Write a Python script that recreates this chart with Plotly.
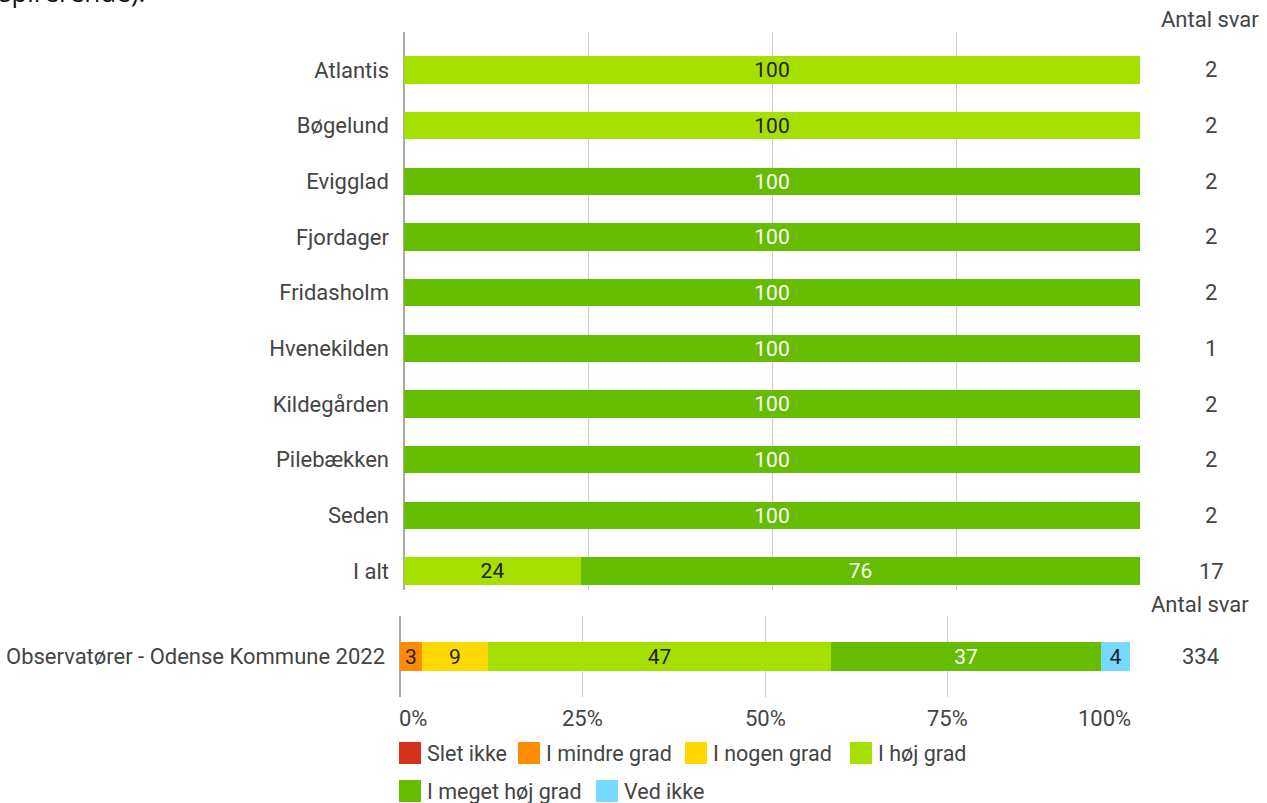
import plotly.graph_objects as go

W, H = 1267, 803

categories = ["Atlantis", "Bøgelund", "Evigglad", "Fjordager", "Fridasholm",
              "Hvenekilden", "Kildegården", "Pilebækken", "Seden", "I alt"]
series_names = ["Slet ikke", "I mindre grad", "I nogen grad", "I høj grad",
                "I meget høj grad", "Ved ikke"]
slet_ikke = [0, 0, 0, 0, 0, 0, 0, 0, 0, 0]
i_mindre_grad = [0, 0, 0, 0, 0, 0, 0, 0, 0, 0]
i_nogen_grad = [0, 0, 0, 0, 0, 0, 0, 0, 0, 0]
i_hoej_grad = [100, 100, 0, 0, 0, 0, 0, 0, 0, 24]
i_meget_hoej_grad = [0, 0, 100, 100, 100, 100, 100, 100, 100, 76]
ved_ikke = [0, 0, 0, 0, 0, 0, 0, 0, 0, 0]
antal_svar = [2, 2, 2, 2, 2, 1, 2, 2, 2, 17]

bench_category = ["Observatører - Odense Kommune 2022"]
bench_values = [0, 3, 9, 47, 37, 4]
bench_antal = [334]

tick_vals = [0, 25, 50, 75, 100]
tick_labels = ["0%", "25%", "50%", "75%", "100%"]
header = "Antal svar"
top_text = "spirerende)."

colors = ["#d4321a", "#ff8c00", "#ffd800", "#a6df00", "#66bc00", "#78d9ff"]
text_colors = ["#222222", "#222222", "#222222", "#222222", "#ffffff", "#222222"]

def px_x(p):
    return p / W

def px_y(p):
    return 1 - p / H

FS = 22
LEG_FS = 21.5
BAR_FS = 21

fig = go.Figure()
top_series = [slet_ikke, i_mindre_grad, i_nogen_grad, i_hoej_grad, i_meget_hoej_grad, ved_ikke]
for name, vals, c, tc in zip(series_names, top_series, colors, text_colors):
    fig.add_trace(go.Bar(
        y=categories, x=vals, orientation="h", name=name,
        marker=dict(color=c, line=dict(width=0)), width=0.49,
        text=[str(v) if v else "" for v in vals], textposition="inside",
        insidetextanchor="middle", constraintext="none", textangle=0,
        textfont=dict(color=tc, size=BAR_FS, family="Roboto"),
        hoverinfo="skip", showlegend=False, xaxis="x", yaxis="y"))

for name, v, c, tc in zip(series_names, bench_values, colors, text_colors):
    fig.add_trace(go.Bar(
        y=bench_category, x=[v], orientation="h", name=name,
        marker=dict(color=c, line=dict(width=0)), width=0.35,
        text=[str(v) if v else ""], textposition="inside",
        insidetextanchor="middle", constraintext="none", textangle=0,
        textfont=dict(color=tc, size=BAR_FS, family="Roboto"),
        hoverinfo="skip", showlegend=False, xaxis="x2", yaxis="y2"))

label_font = dict(family="Roboto", size=FS, color="#444444")
legend_font = dict(family="Roboto", size=LEG_FS, color="#444444")

fig.update_layout(
    width=W, height=H, margin=dict(l=0, r=0, t=0, b=0),
    paper_bgcolor="white", plot_bgcolor="white", barmode="stack",
    bargap=0, showlegend=False, font=label_font,
    xaxis=dict(domain=[px_x(404), px_x(1140)], range=[0, 100], tickvals=tick_vals,
               showticklabels=False, showgrid=True, gridcolor="#cccccc", gridwidth=1,
               zeroline=True, zerolinecolor="#aaaaaa", zerolinewidth=2, fixedrange=True),
    yaxis=dict(domain=[px_y(590), px_y(32)], type="category",
               categoryorder="array", categoryarray=categories,
               range=[9.34, -0.68], showgrid=False, zeroline=False,
               tickfont=label_font, ticklabelstandoff=14, anchor="x"),
    xaxis2=dict(domain=[px_x(400), px_x(1130)], range=[0, 100], tickvals=tick_vals,
                showticklabels=False, showgrid=True, gridcolor="#cccccc", gridwidth=1,
                zeroline=True, zerolinecolor="#aaaaaa", zerolinewidth=2, anchor="y2"),
    yaxis2=dict(domain=[px_y(697), px_y(616)], type="category", range=[-0.5, 0.5],
                showgrid=False, zeroline=False, tickfont=label_font,
                ticklabelstandoff=14, anchor="x2"),
)

ann = []
ann.append(dict(text=header, x=px_x(1210), y=px_y(20), xref="paper", yref="paper",
                showarrow=False, font=label_font, xanchor="center", yanchor="middle"))
for cat, n in zip(categories, antal_svar):
    ann.append(dict(text=str(n), x=px_x(1211), y=cat, xref="paper", yref="y",
                    showarrow=False, font=label_font, xanchor="center", yanchor="middle"))
ann.append(dict(text=header, x=px_x(1200), y=px_y(604), xref="paper", yref="paper",
                showarrow=False, font=label_font, xanchor="center", yanchor="middle"))
for cat, n in zip(bench_category, bench_antal):
    ann.append(dict(text=str(n), x=px_x(1200), y=cat, xref="paper", yref="y2",
                    showarrow=False, font=label_font, xanchor="center", yanchor="middle"))
for i, (tv, tl) in enumerate(zip(tick_vals, tick_labels)):
    if i == 0:
        xa, shift = "left", -3
    elif i == len(tick_vals) - 1:
        xa, shift = "right", 3
    else:
        xa, shift = "center", 0
    ann.append(dict(text=tl, x=tv, y=px_y(718), xref="x2", yref="paper", xshift=shift,
                    showarrow=False, font=label_font, xanchor=xa, yanchor="middle"))
ann.append(dict(text=top_text, x=px_x(-3), y=px_y(12), xref="paper", yref="paper",
                showarrow=False, font=dict(family="Open Sans", size=26, color="#111111"),
                xanchor="left", yanchor="bottom"))

legend_x = [399, 518, 685, 850, 399, 596]
legend_y = [753, 753, 753, 753, 791, 791]
shapes = []
for name, c, lx, ly in zip(series_names, colors, legend_x, legend_y):
    shapes.append(dict(type="rect", xref="paper", yref="paper",
                       x0=px_x(lx), x1=px_x(lx + 22), y0=px_y(ly - 11), y1=px_y(ly + 11),
                       fillcolor=c, line=dict(width=0)))
    ann.append(dict(text=name, x=px_x(lx + 26), y=px_y(ly), xref="paper", yref="paper",
                    showarrow=False, font=legend_font, xanchor="left", yanchor="middle"))

fig.update_layout(annotations=ann, shapes=shapes)
fig.write_html("out.html", config={"displayModeBar": False},
               post_script="document.body.style.margin='0';document.body.style.overflow='hidden';")
